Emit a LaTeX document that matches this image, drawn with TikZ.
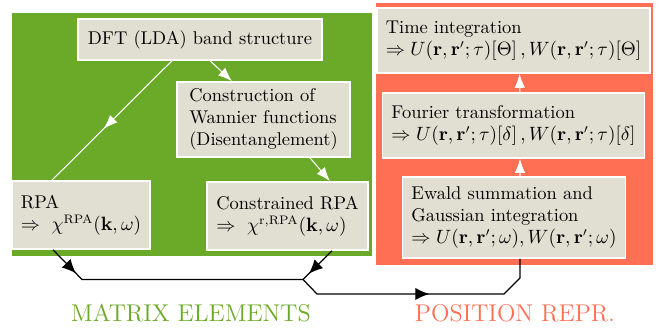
\documentclass[tikz,border=0pt]{standalone}
\usepackage{amsmath}
\usepackage{amssymb}
\usepackage{tikz}
\definecolor{matgreen}{RGB}{107,170,41}
\definecolor{posred}{RGB}{255,111,84}
\definecolor{boxgray}{RGB}{225,223,210}
\usetikzlibrary{arrows.meta}
\usetikzlibrary{decorations}
\usetikzlibrary{decorations.markings}
\tikzset{
	stage/.style={rectangle,draw=white,line width=0.9pt,fill=boxgray,align=left,inner xsep=0.18cm,inner ysep=0.08cm,font=\fontsize{10.5}{12.5}\selectfont},
	wkernel/.style={draw=white,semithick,->},
	wkernelmid/.style={draw=white,semithick,postaction={decorate,decoration={markings,mark=at position 0.57 with {\arrow[white]{>}}}}},
	flow/.style={line width=0.7pt,postaction={decorate,decoration={markings,mark=at position #1 with {\arrow{Latex[length=8pt,width=7pt]}}}}},
	flowtwo/.style 2 args={line width=0.7pt,line join=miter,postaction={decorate,decoration={markings,mark=at position #1 with {\arrow{Latex[length=8pt,width=7pt]}},mark=at position #2 with {\arrow{Latex[length=8pt,width=7pt]}}}}},
	regionlabel/.style={font=\fontsize{13.8}{15}\selectfont},
	>={Latex[length=8pt,width=6pt]},
	}

\begin{document}
\begin{tikzpicture}
\useasboundingbox (0,0) rectangle (13.24,6.62);
\fill[matgreen] (0.24,1.5) rectangle (7.44,6.36);
\fill[posred] (7.52,1.32) rectangle (13.06,6.56);

% matrix elements side
\node[stage,minimum width=4.88cm,minimum height=0.82cm] (dft) at (4.0,5.83) {DFT (LDA) band structure};
\node[stage,minimum width=3.46cm,minimum height=1.5cm] (wannier) at (5.27,4.23) {Construction of\\Wannier functions\\(Disentanglement)};
\node[stage,minimum width=2.56cm,minimum height=1.36cm] (rpa) at (1.62,2.32) {RPA\\$\Rightarrow\ \chi^{\mathrm{RPA}}(\mathbf{k},\omega)$};
\node[stage,minimum width=3.22cm,minimum height=1.36cm] (crpa) at (5.75,2.3) {Constrained RPA\\$\Rightarrow\ \chi^{\mathrm{r,RPA}}(\mathbf{k},\omega)$};

% position representation side
\node[stage,minimum width=5.38cm,minimum height=1.3cm] (time) at (10.27,5.81) {Time integration\\$\Rightarrow U(\mathbf{r},\mathbf{r}';\tau)[\Theta]\,,W(\mathbf{r},\mathbf{r}';\tau)[\Theta]$};
\node[stage,minimum width=5.14cm,minimum height=1.3cm] (fourier) at (10.27,4.11) {Fourier transformation\\$\Rightarrow U(\mathbf{r},\mathbf{r}';\tau)[\delta]\,,W(\mathbf{r},\mathbf{r}';\tau)[\delta]$};
\node[stage,minimum width=4.36cm,minimum height=1.62cm] (ewald) at (10.28,2.27) {Ewald summation and\\Gaussian integration\\$\Rightarrow U(\mathbf{r},\mathbf{r}';\omega),W(\mathbf{r},\mathbf{r}';\omega)$};

\draw[wkernelmid] ([xshift=-0.56cm]dft.south) -- ([xshift=-0.58cm]rpa.north);
\draw[wkernel] ([xshift=0.2cm]dft.south) -- ([xshift=-0.63cm]wannier.north);
\draw[wkernel] ([xshift=0.93cm]wannier.south) -- ([xshift=0.85cm]crpa.north);
\draw[wkernel] ([xshift=0.12cm]ewald.north) -- ([xshift=0.13cm]fourier.south);
\draw[wkernel] ([xshift=0.13cm]fourier.north) -- ([xshift=0.12cm]time.south);

\coordinate (j1) at (1.64,1.03);
\coordinate (j2) at (6.06,1.03);
\coordinate (j3) at (6.34,0.74);
\coordinate (j4) at (10.08,0.74);
\coordinate (j5) at (10.4,1.06);
\draw[flowtwo={0.66cm}{7.9cm}] ([xshift=-0.56cm]rpa.south) -- (j1) -- (j2) -- (j3) -- (j4) -- (j5) -- ([xshift=0.12cm]ewald.south);
\draw[flow=0.8] ([xshift=0.89cm]crpa.south) -- (j2);

\node[regionlabel,text=matgreen] (matlabel) at (3.82,0.36) {MATRIX ELEMENTS};
\node[regionlabel,text=posred] (poslabel) at (10.3,0.36) {POSITION REPR.};
\end{tikzpicture}
\end{document}
